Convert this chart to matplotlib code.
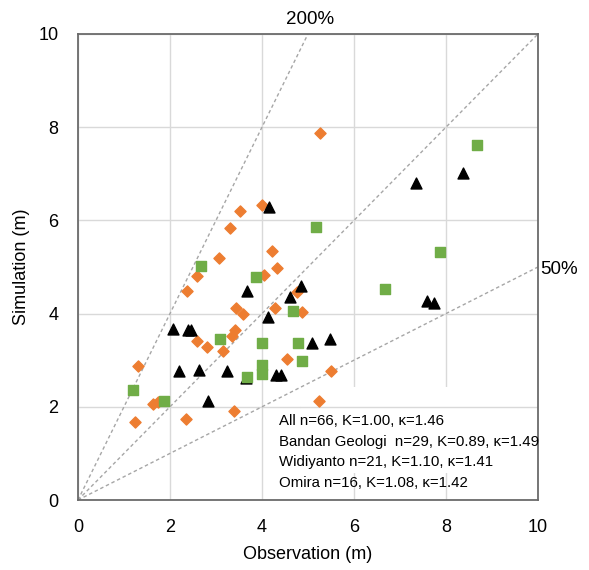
import matplotlib
matplotlib.use("Agg")
import matplotlib.pyplot as plt
from matplotlib.patches import Rectangle

plt.rcParams['font.family'] = ['Liberation Sans', 'DejaVu Sans']

# Bandan Geologi (orange diamonds)
bandan_obs = [3.52, 4.01, 3.30, 4.21, 3.07, 4.33, 5.26, 2.58, 2.36, 4.04,
              4.76, 3.43, 3.58, 4.29, 4.87, 3.41, 3.35, 2.59, 2.80, 3.15,
              4.55, 1.31, 1.64, 1.75, 3.40, 1.24, 2.35, 5.49, 5.25]
bandan_sim = [6.20, 6.32, 5.83, 5.34, 5.20, 4.98, 7.87, 4.81, 4.49, 4.83,
              4.47, 4.11, 3.99, 4.13, 4.03, 3.65, 3.52, 3.42, 3.28, 3.20,
              3.03, 2.88, 2.05, 2.11, 1.90, 1.68, 1.73, 2.77, 2.13]

# Widiyanto (black triangles)
widi_obs = [4.16, 8.36, 7.34, 7.58, 7.75, 3.67, 4.85, 4.61, 4.14, 2.06,
            2.40, 2.45, 5.09, 5.48, 2.20, 2.64, 3.25, 3.65, 4.30, 4.41, 2.82]
widi_sim = [6.29, 7.02, 6.81, 4.28, 4.22, 4.49, 4.60, 4.36, 3.92, 3.68,
            3.65, 3.65, 3.36, 3.45, 2.77, 2.80, 2.77, 2.62, 2.68, 2.68, 2.13]

# Omira (green squares)
omira_obs = [2.67, 5.17, 8.67, 7.87, 6.67, 3.88, 4.67, 3.09, 3.99, 4.78,
             4.88, 3.67, 3.99, 3.99, 1.20, 1.88]
omira_sim = [5.02, 5.85, 7.62, 5.33, 4.52, 4.78, 4.06, 3.45, 3.36, 3.36,
             2.98, 2.65, 2.90, 2.70, 2.36, 2.13]

ratios = [2.0, 1.0, 0.5]
stats_lines = ["All n=66, K=1.00, \u03ba=1.46",
               "Bandan Geologi  n=29, K=0.89, \u03ba=1.49",
               "Widiyanto n=21, K=1.10, \u03ba=1.41",
               "Omira n=16, K=1.08, \u03ba=1.42"]

fig = plt.figure(figsize=(5.89, 5.70), dpi=100)
ax = fig.add_axes([0.1324, 0.1228, 0.7810, 0.8176])

ax.set_xlim(0, 10)
ax.set_ylim(0, 10)
ax.set_xticks([0, 2, 4, 6, 8, 10])
ax.set_yticks([0, 2, 4, 6, 8, 10])
ax.grid(True, color='#d9d9d9', lw=1)
ax.set_axisbelow(True)
ax.tick_params(length=0, labelsize=13, pad=14)
for s in ax.spines.values():
    s.set_color('#6b6b6b')
    s.set_linewidth(1.3)

# ratio lines
for r in ratios:
    xe = min(10, 10 / r)
    ax.plot([0, xe], [0, xe * r], ls=(0, (2.5, 2)), color='#a6a6a6', lw=1, zorder=2)

# white box hiding grid under the stats text
ax.add_patch(Rectangle((4.84, 0.58), 5.16, 1.84, facecolor='white',
                       edgecolor='none', zorder=1))
ax.plot([4.84, 10], [2, 2], color='#d9d9d9', lw=1, zorder=1.1)

ax.scatter(bandan_obs, bandan_sim, marker='D', s=32, color='#ed7d31', zorder=3)
ax.scatter(widi_obs, widi_sim, marker='^', s=62, color='black', zorder=4)
ax.scatter(omira_obs, omira_sim, marker='s', s=56, color='#70ad47', zorder=5)

for i, line in enumerate(stats_lines):
    ax.text(4.36, 1.70 - i * 0.445, line, fontsize=10.8, va='center', ha='left', zorder=6)

ax.text(5.04, 10.30, "200%", fontsize=13.5, ha='center', va='center', clip_on=False)
ax.text(10.05, 4.95, "50%", fontsize=13.5, ha='left', va='center', clip_on=False)

ax.set_xlabel("Observation (m)", fontsize=13, labelpad=7)
ax.set_ylabel("Simulation (m)", fontsize=13, labelpad=6)

fig.savefig("out.png", dpi=100)
